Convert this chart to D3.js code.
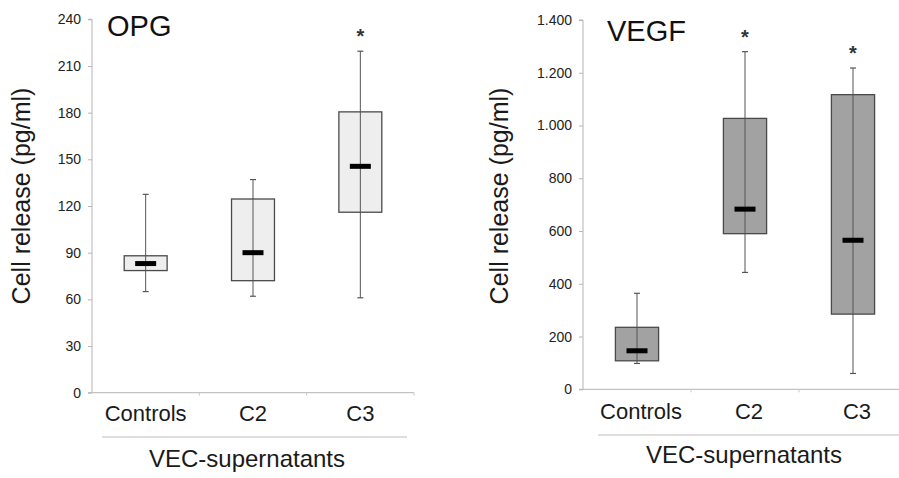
<!DOCTYPE html>
<html>
<head>
<meta charset="utf-8">
<script src="https://cdn.jsdelivr.net/npm/d3@7"></script>
<style>
  html, body { margin: 0; padding: 0; background: #fff; }
  svg { display: block; font-family: "Liberation Sans", Arial, sans-serif; }
</style>
</head>
<body>
<svg id="chart" width="899" height="478"></svg>
<script>
// Group names shared by both panels
const categories = ["Controls", "C2", "C3"];

// OPG release (pg/ml): whisker low, Q1, median, Q3, whisker high
const opgMin    = [65, 62, 61];
const opgQ1     = [78.5, 72, 116];
const opgMedian = [83, 90, 145.5];
const opgQ3     = [88, 124.5, 180.5];
const opgMax    = [127.5, 137, 219.5];
const opgSignificant = [false, false, true];
const opgTicks  = [0, 30, 60, 90, 120, 150, 180, 210, 240];

// VEGF release (pg/ml)
const vegfMin    = [98, 443, 60];
const vegfQ1     = [108, 590, 285];
const vegfMedian = [146, 683, 565];
const vegfQ3     = [235, 1027, 1117];
const vegfMax    = [364, 1280, 1218];
const vegfSignificant = [false, true, true];
const vegfTicks  = [0, 200, 400, 600, 800, 1000, 1200, 1400];

const svg = d3.select("#chart");
const dotLocale = d3.formatLocale({ decimal: ",", thousands: ".", grouping: [3], currency: ["", ""] });

function rows(mins, q1s, meds, q3s, maxs, sig) {
  return categories.map((c, i) => ({
    cat: c, min: mins[i], q1: q1s[i], med: meds[i], q3: q3s[i], max: maxs[i], sig: sig[i]
  }));
}

function panel(cfg) {
  const g = svg.append("g");
  const x = d3.scaleBand().domain(categories).range([cfg.x0, cfg.x1]).paddingInner(0).paddingOuter(0);
  const y = d3.scaleLinear().domain([0, cfg.yMax]).range([cfg.yBottom, cfg.yTop]);
  const boxW = x.bandwidth() * 0.4;
  const cx = d => x(d.cat) + x.bandwidth() / 2;

  // y axis
  const yAxis = d3.axisLeft(y).tickValues(cfg.ticks).tickSize(4).tickPadding(7).tickFormat(cfg.fmt);
  const ya = g.append("g").attr("transform", `translate(${cfg.x0},0)`).call(yAxis);
  ya.select(".domain").attr("stroke", "#b5b5b5").attr("d", `M-4,${cfg.yTop}H0V${cfg.yBottom}`);
  ya.selectAll(".tick line").attr("stroke", "#b5b5b5");
  ya.selectAll(".tick text").attr("fill", "#222").style("font-size", "14px")
    .style("font-family", '"Liberation Sans", Arial, sans-serif');

  // x axis baseline with group boundary ticks
  const xa = g.append("g").attr("transform", `translate(0,${cfg.yBottom})`);
  xa.append("line").attr("x1", cfg.x0 - 4).attr("x2", cfg.x1).attr("stroke", "#b5b5b5");
  xa.selectAll(".bt").data(categories).join("line").attr("class", "bt")
    .attr("x1", d => x(d) + x.bandwidth()).attr("x2", d => x(d) + x.bandwidth())
    .attr("y1", 0).attr("y2", 3).attr("stroke", "#c8c8c8");

  const data = rows(...cfg.series);
  const box = g.selectAll(".box").data(data).join("g").attr("class", "box");

  // whisker
  box.append("line")
    .attr("x1", cx).attr("x2", cx)
    .attr("y1", d => y(d.min)).attr("y2", d => y(d.max))
    .attr("stroke", "#555").attr("stroke-width", 1);
  // interquartile box
  box.append("rect")
    .attr("x", d => cx(d) - boxW / 2).attr("width", boxW)
    .attr("y", d => y(d.q3)).attr("height", d => y(d.q1) - y(d.q3))
    .attr("fill", cfg.fill).attr("stroke", "#4a4a4a").attr("stroke-width", 1.3);
  // whisker line over the box
  box.append("line")
    .attr("x1", cx).attr("x2", cx)
    .attr("y1", d => y(d.q3)).attr("y2", d => y(d.q1))
    .attr("stroke", "#555").attr("stroke-width", 1);
  // whisker caps
  ["min", "max"].forEach(k => {
    box.append("line")
      .attr("x1", d => cx(d) - 3).attr("x2", d => cx(d) + 3)
      .attr("y1", d => y(d[k])).attr("y2", d => y(d[k]))
      .attr("stroke", "#555").attr("stroke-width", 1.2);
  });
  // median
  box.append("rect")
    .attr("x", d => cx(d) - 10.5).attr("width", 21)
    .attr("y", d => y(d.med) - 2.5).attr("height", 5)
    .attr("fill", "#000");
  // significance marker
  box.filter(d => d.sig).append("text")
    .attr("x", cx).attr("y", d => y(d.max) - 18 + 10)
    .attr("text-anchor", "middle").attr("font-size", 20).attr("font-weight", "bold")
    .attr("fill", "#333").text("*");

  // category labels
  g.selectAll(".cl").data(categories).join("text").attr("class", "cl")
    .attr("x", d => x(d) + x.bandwidth() / 2 + cfg.labelDx)
    .attr("y", cfg.catY).attr("text-anchor", "middle")
    .attr("font-size", 22).attr("fill", "#1a1a1a").text(d => d);

  // separator and group title
  g.append("line").attr("x1", cfg.sepX0).attr("x2", cfg.sepX1)
    .attr("y1", cfg.sepY).attr("y2", cfg.sepY).attr("stroke", "#bdbdbd").attr("stroke-width", 1.2);
  g.append("text").attr("x", cfg.groupX).attr("y", cfg.groupY).attr("text-anchor", "middle")
    .attr("font-size", 24).attr("fill", "#1a1a1a").text("VEC-supernatants");

  // y title
  g.append("text")
    .attr("transform", `translate(${cfg.yLabelX},196) rotate(-90)`)
    .attr("text-anchor", "middle").attr("font-size", 25).attr("fill", "#1a1a1a")
    .text("Cell release (pg/ml)");

  // panel title
  g.append("text").attr("x", cfg.titleX).attr("y", cfg.titleY)
    .attr("font-size", cfg.titleSize).attr("fill", "#111").text(cfg.title);
}

panel({
  title: "OPG", titleX: 107, titleY: 36, titleSize: 29,
  x0: 92, x1: 414, yTop: 19.3, yBottom: 392.7, yMax: 240,
  ticks: opgTicks, fmt: d3.format("d"),
  series: [opgMin, opgQ1, opgMedian, opgQ3, opgMax, opgSignificant],
  fill: "#eeeeee", labelDx: 0, catY: 421,
  sepX0: 102, sepX1: 407, sepY: 437, groupX: 247, groupY: 467, yLabelX: 30
});

panel({
  title: "VEGF", titleX: 607, titleY: 41, titleSize: 29,
  x0: 583, x1: 907, yTop: 20, yBottom: 389.3, yMax: 1400,
  ticks: vegfTicks, fmt: dotLocale.format(",d"),
  series: [vegfMin, vegfQ1, vegfMedian, vegfQ3, vegfMax, vegfSignificant],
  fill: "#a2a2a2", labelDx: 4, catY: 419,
  sepX0: 598, sepX1: 899, sepY: 435, groupX: 744, groupY: 463, yLabelX: 508
});
</script>
</body>
</html>
